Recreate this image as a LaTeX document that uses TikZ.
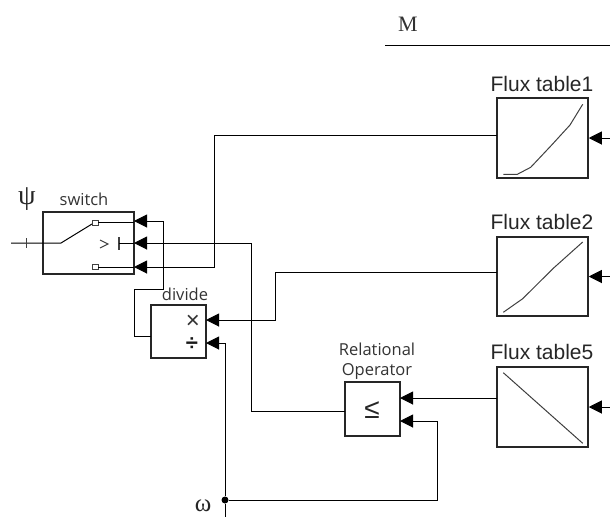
\documentclass[tikz,border=0pt]{standalone}
\usepackage{fontspec}
\setmainfont{Liberation Sans}
\newfontfamily\labelfont{Open Sans}
\newfontfamily\symbfont{Liberation Serif}
\usetikzlibrary{arrows.meta,shadows}
\tikzset{
  block/.style={draw=black!85,line width=1.5pt,fill=white,inner sep=0pt,
    drop shadow={shadow xshift=1.2pt,shadow yshift=-1.2pt,opacity=0.35,fill=black}},
  sig/.style={black,line width=1pt},
  sigarrow/.style={sig,-{Triangle[length=13pt,width=13pt]}},
  icon/.style={black!75,line width=1pt},
  fluxname/.style={text=black!85,font=\fontsize{21}{23}\selectfont},
  simname/.style={text=black!80,font=\labelfont\fontsize{16.5}{20}\selectfont,align=center},
  greek/.style={text=black!85,font=\symbfont\fontsize{28}{28}\selectfont}
}
\begin{document}
\begin{tikzpicture}[x=1pt,y=-1pt]
  \useasboundingbox (0,0) rectangle (610,517);
  % Bloques
  \node[block,minimum width=91pt,minimum height=62pt] (switch) at (88.5,243) {};
  \node[block,minimum width=55pt,minimum height=53pt] (divide) at (178.5,331.5) {};
  \node[block,minimum width=55pt,minimum height=54pt] (relop) at (372.5,409) {};
  \node[block,minimum width=91pt,minimum height=80pt] (flux1) at (542.5,138) {};
  \node[block,minimum width=91pt,minimum height=79pt] (flux2) at (542.5,276.5) {};
  \node[block,minimum width=91pt,minimum height=80pt] (flux5) at (542.5,407) {};
  % Nombres
  \node[simname] (switchname) at (84,199) {switch};
  \node[simname] (dividename) at (185,294) {divide};
  \node[simname] (relopname) at (377,361) {Relational\\Operator};
  \node[fluxname] (flux1name) at (542,84) {Flux table1};
  \node[fluxname] (flux2name) at (542,222) {Flux table2};
  \node[fluxname] (flux5name) at (542,352) {Flux table5};
  \node[greek] (psi) at (27,199) {ψ};
  \node[greek,anchor=base,inner sep=0pt,font=\symbfont\fontsize{25}{25}\selectfont] (omega) at (203,511) {ω};
  \node[text=black!80,font=\symbfont\fontsize{22}{24}\selectfont] (mass) at (408,24) {M};
  % Puertos
  \coordinate (sw1) at (134,221);
  \coordinate (sw2) at (134,243);
  \coordinate (sw3) at (134,267);
  \coordinate (div1) at (206,320);
  \coordinate (div2) at (206,343);
  \coordinate (rel1) at (400,398);
  \coordinate (rel2) at (400,421);
  \coordinate (relin) at (345,411);
  \coordinate (divout) at (151,336);
  \coordinate (fl1out) at (497,135);
  \coordinate (fl2out) at (497,272);
  \coordinate (fl5out) at (497,398);
  \coordinate (swin) at (11,243);
  \coordinate (massa) at (385,45);
  \coordinate (massb) at (610,45);
  \node[circle,fill=black,inner sep=0pt,minimum size=7pt] (branch) at (225,500) {};
  \coordinate (omegain) at (225,517);
  % Interior del switch
  \draw[sig] (swin)--(61,243)--(92,224);
  \draw[icon,line width=0.5pt] (26,238)--(26,248);
  \draw[icon,fill=white,line width=0.9pt] (92.5,220.5) rectangle (98,225.5);
  \draw[icon,fill=white,line width=0.9pt] (92.5,264.5) rectangle (98,269.5);
  \draw[sig] (98,222)--(134,222);
  \draw[sig] (98,267)--(134,267);
  \draw[icon] (100,240)--(108,244)--(100,248);
  \draw[icon,line width=1.2pt] (119,237)--(119,250);
  \draw[sig] (119,243)--(sw2);
  % Interior de divide y del operador
  \node[text=black!80,font=\fontsize{24}{24}\selectfont] (times) at (193,322) {×};
  \node[text=black!90,font=\bfseries\fontsize{22}{22}\selectfont] (obelus) at (192,344) {÷};
  \node[text=black!85,font=\fontsize{28}{28}\selectfont] (leq) at (372,410) {≤};
  % Curvas de las tablas
  \draw[icon] (503.3,174.3)--(517.3,174.3)--(530.7,167.3)--(551.7,145)--(570,125)--(582.7,104.3);
  \draw[icon] (503.3,312.3)--(522.7,298.7)--(553.3,268.3)--(582.7,242);
  \draw[icon] (503.3,372.7)--(582.7,443.3);
  % Conexiones
  \draw[sigarrow] (divout)--(134,336)--(134,289)--(163,289)--(163,221)--(sw1);
  \draw[sigarrow] (relin)--(251,411)--(251,243)--(sw2);
  \draw[sigarrow] (fl1out)--(214.5,135)--(214.5,267)--(sw3);
  \draw[sigarrow] (fl2out)--(275,272)--(275,320)--(div1);
  \draw[sigarrow] (branch)--(225,343)--(div2);
  \draw[sigarrow] (branch)--(437,500)--(437,421)--(rel2);
  \draw[sigarrow] (fl5out)--(rel1);
  \draw[sig] (branch)--(omegain);
  \draw[sig] (massa)--(massb);
  % Entradas de las tablas
  \foreach \flux in {flux1,flux2,flux5} {
    \draw[sigarrow] (\flux.east)++(22,0)--(\flux.east);
  }
\end{tikzpicture}
\end{document}
